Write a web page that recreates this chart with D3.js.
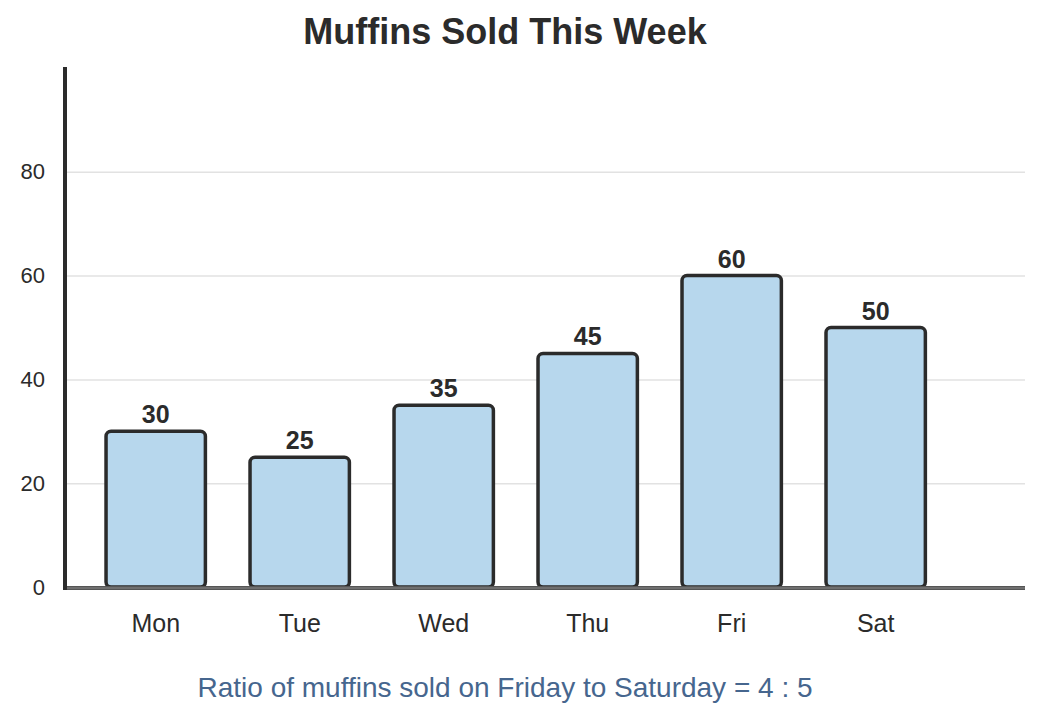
<!DOCTYPE html>
<html>
<head>
<meta charset="utf-8">
<script src="https://cdn.jsdelivr.net/npm/d3@7"></script>
<style>
body { margin: 0; background: #fff; }
svg { display: block; font-family: "Liberation Sans", Arial, sans-serif; }
</style>
</head>
<body>
<svg id="chart" width="1043" height="721"></svg>
<script>
// chart data
var days = ["Mon", "Tue", "Wed", "Thu", "Fri", "Sat"];
var muffins = [30, 25, 35, 45, 60, 50];
var yTicks = [0, 20, 40, 60, 80];
var titleText = "Muffins Sold This Week";
var footText = "Ratio of muffins sold on Friday to Saturday = 4 : 5";

var svg = d3.select("#chart");
var plotL = 65, plotR = 1025, plotT = 68, plotB = 587;

var x = d3.scaleBand()
    .domain(days)
    .range([65, 966.4])
    .paddingInner(0.31)
    .paddingOuter(0.285);
var y = d3.scaleLinear().domain([0, 100]).range([plotB, plotT]);

// title
svg.append("text")
    .attr("x", 505).attr("y", 44)
    .attr("text-anchor", "middle")
    .style("font-size", "36px").style("font-weight", "bold")
    .attr("fill", "#2b2b2b")
    .text(titleText);

// gridlines
svg.append("g").selectAll("line")
    .data(yTicks.filter(function(d) { return d > 0; }))
    .enter().append("line")
    .attr("x1", plotL).attr("x2", plotR)
    .attr("y1", function(d) { return y(d) + 0.5; })
    .attr("y2", function(d) { return y(d) + 0.5; })
    .attr("stroke", "#e2e2e2").attr("stroke-width", 1.5);

// y axis tick labels
var yAxis = svg.append("g")
    .attr("transform", "translate(" + plotL + ",0)")
    .call(d3.axisLeft(y).tickValues(yTicks).tickSize(0).tickPadding(20));
yAxis.select(".domain").remove();
yAxis.selectAll("text")
    .style("font-size", "22px")
    .style("font-family", "'Liberation Sans', Arial, sans-serif")
    .attr("fill", "#2b2b2b");

// x axis labels
var xAxis = svg.append("g")
    .attr("transform", "translate(0," + plotB + ")")
    .call(d3.axisBottom(x).tickSize(0).tickPadding(27));
xAxis.select(".domain").remove();
xAxis.selectAll("text")
    .style("font-size", "25px")
    .style("font-family", "'Liberation Sans', Arial, sans-serif")
    .attr("fill", "#2b2b2b");

// bars
var bars = svg.append("g").selectAll("g")
    .data(days)
    .enter().append("g");
bars.append("rect")
    .attr("x", function(d) { return x(d); })
    .attr("y", function(d, i) { return y(muffins[i]); })
    .attr("width", x.bandwidth())
    .attr("height", function(d, i) { return plotB - y(muffins[i]); })
    .attr("rx", 5).attr("ry", 5)
    .attr("fill", "#b7d7ed")
    .attr("stroke", "#2b2b2b").attr("stroke-width", 3.5);
bars.append("text")
    .attr("x", function(d) { return x(d) + x.bandwidth() / 2; })
    .attr("y", function(d, i) { return y(muffins[i]) - 8; })
    .attr("text-anchor", "middle")
    .style("font-size", "25px").style("font-weight", "bold")
    .attr("fill", "#2b2b2b")
    .text(function(d, i) { return muffins[i]; });

// baseline
svg.append("line")
    .attr("x1", plotL).attr("x2", plotR)
    .attr("y1", plotB + 1).attr("y2", plotB + 1)
    .attr("stroke", "#555").attr("stroke-width", 4);
svg.append("line")
    .attr("x1", plotL).attr("x2", plotR)
    .attr("y1", plotB + 1).attr("y2", plotB + 1)
    .attr("stroke", "#8a8a8a").attr("stroke-width", 1);

// y axis line
svg.append("line")
    .attr("x1", plotL).attr("x2", plotL)
    .attr("y1", plotT - 1).attr("y2", plotB + 3)
    .attr("stroke", "#2b2b2b").attr("stroke-width", 4);

// footer
svg.append("text")
    .attr("x", 505).attr("y", 697)
    .attr("text-anchor", "middle")
    .style("font-size", "28px")
    .attr("fill", "#46668e")
    .text(footText);
</script>
</body>
</html>
